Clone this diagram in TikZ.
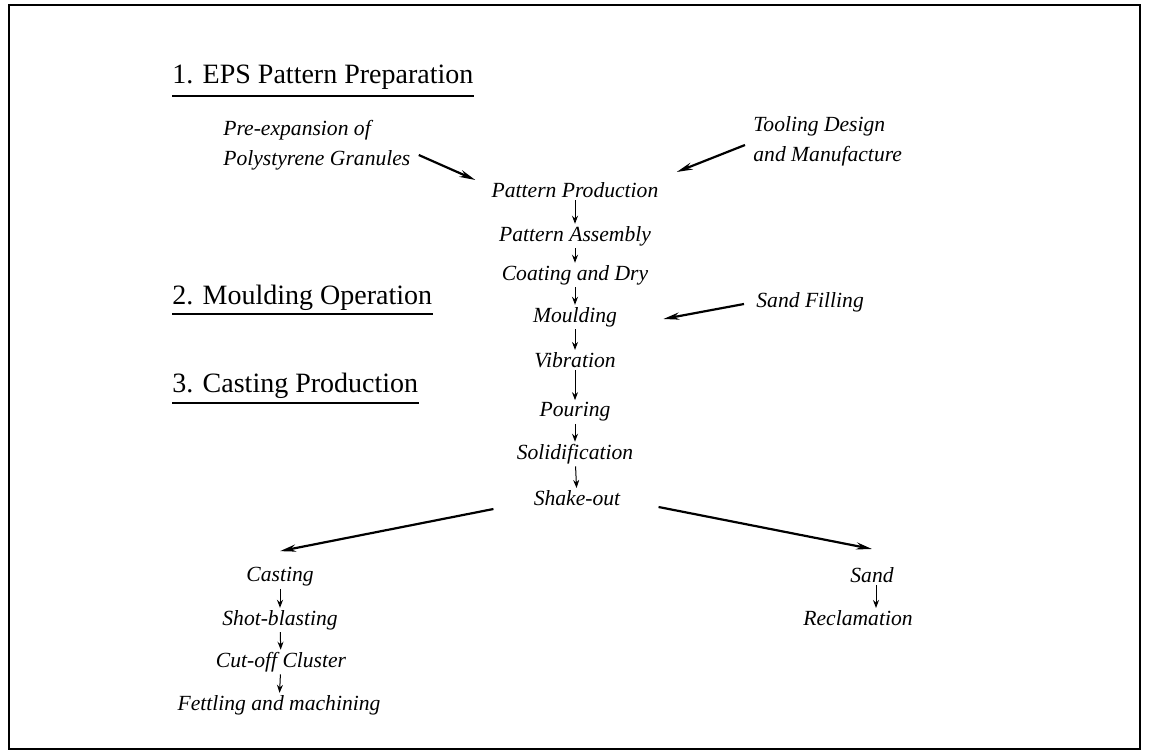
\documentclass[tikz,border=0pt]{standalone}
\usepackage{fontspec}
\setmainfont{Liberation Serif}
\usetikzlibrary{arrows.meta}
\tikzset{
  lbl/.style={font=\fontsize{10.8}{15}\selectfont\itshape, inner sep=1pt},
  hdr/.style={font=\fontsize{14}{16}\selectfont, anchor=base west, inner sep=0pt},
  uline/.style={line width=1pt},
  small/.style={-{Stealth[length=4pt,width=3pt]}, line width=0.5pt},
  big/.style={-{Stealth[length=8pt,width=3.6pt]}, line width=1.1pt},
  frame/.style={line width=1.2pt}
}
\begin{document}
\begin{tikzpicture}[x=0.5pt,y=-0.5pt]
\useasboundingbox (0,0) rectangle (1150,753);
\draw[frame] (9,5) rectangle (1140,749);

% headers
\node[hdr] (h1) at (172,84) {1. EPS Pattern Preparation};
\draw[uline] ([yshift=-6pt]h1.base west) -- ([yshift=-6pt]h1.base east);
\node[hdr] (h2) at (172,305) {2. Moulding Operation};
\draw[uline] ([yshift=-4.5pt]h2.base west) -- ([yshift=-4.5pt]h2.base east);
\node[hdr] (h3) at (172,393) {3. Casting Production};
\draw[uline] ([yshift=-5pt]h3.base west) -- ([yshift=-5pt]h3.base east);

% inputs
\node[lbl, align=left, anchor=west] (pre) at (221,145) {Pre-expansion of\\Polystyrene Granules};
\node[lbl, align=left, anchor=west] (tool) at (751,141) {Tooling Design\\and Manufacture};
\node[lbl, anchor=west] (sf) at (754,302) {Sand Filling};

% main column
\node[lbl] (pp) at (575,190) {Pattern Production};
\node[lbl] (pa) at (575,236) {Pattern Assembly};
\node[lbl] (cd) at (575,275) {Coating and Dry};
\node[lbl] (mo) at (575,317) {Moulding};
\node[lbl] (vi) at (575,360) {Vibration};
\node[lbl] (po) at (575,412) {Pouring};
\node[lbl] (so) at (575,454) {Solidification};
\node[lbl] (sh) at (577,498) {Shake-out};

\draw[small] (pp) -- (pa);
\draw[small] (pa) -- (cd);
\draw[small] (cd) -- (mo);
\draw[small] (mo) -- (vi);
\draw[small] (vi) -- (po);
\draw[small] (po) -- (so);
\draw[small] (so) -- (sh);

% left branch
\node[lbl] (ca) at (280,577) {Casting};
\node[lbl] (sb) at (280,620) {Shot-blasting};
\node[lbl] (co) at (281,662) {Cut-off Cluster};
\node[lbl] (fm) at (279,705) {Fettling and machining};
\draw[small] (ca) -- (sb);
\draw[small] (sb) -- (co);
\draw[small] (co) -- (fm);

% right branch
\node[lbl] (sa) at (872,575) {Sand};
\node[lbl] (re) at (858,618) {Reclamation};
\draw[small] ([xshift=2pt]sa.south) -- ([xshift=9pt]re.north);

% big arrows
\draw[big] ([xshift=3pt,yshift=-5pt]pre.east) -- ([xshift=-7pt,yshift=5pt]pp.west);
\draw[big] ([xshift=-3pt,yshift=-2pt]tool.west) -- ([xshift=8pt,yshift=9pt]pp.east);
\draw[big] ([xshift=-5pt,yshift=-1pt]sf.west) -- ([xshift=22pt,yshift=-1pt]mo.east);
\draw[big] ([xshift=-19pt,yshift=-5.5pt]sh.west) -- ([yshift=7pt]ca.north);
\draw[big] ([xshift=18pt,yshift=-4.5pt]sh.east) -- ([yshift=8pt]sa.north);
\end{tikzpicture}
\end{document}
